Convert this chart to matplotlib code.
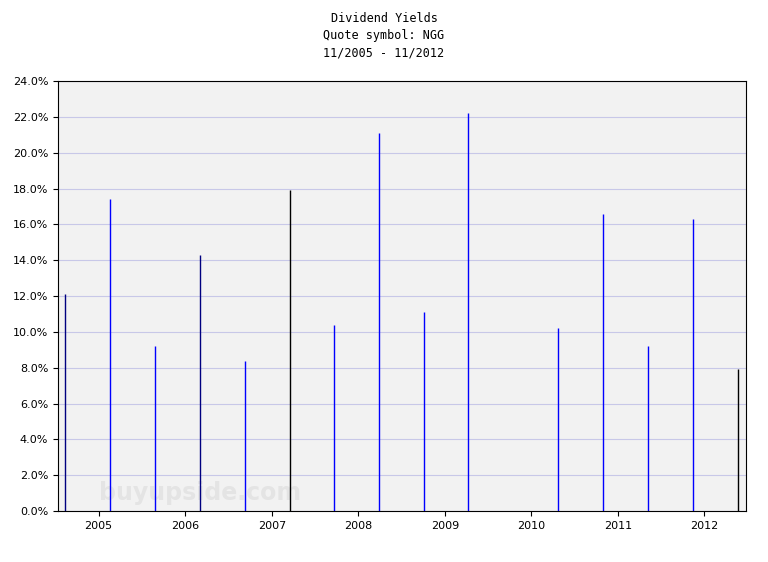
import matplotlib
matplotlib.use("Agg")
import matplotlib.pyplot as plt

dates = [2004.61, 2005.13, 2005.65, 2006.17, 2006.69, 2007.21, 2007.72, 2008.24,
         2008.76, 2009.27, 2010.31, 2010.83, 2011.35, 2011.87, 2012.39]
yields = [12.1, 17.4, 9.2, 14.3, 8.4, 17.9, 10.4, 21.1, 11.1, 22.2, 10.2, 16.6, 9.2, 16.3, 7.9]
colors = ["#000080", "#0000ff", "#0000ff", "#000080", "#0000ff", "#000000", "#0000ff", "#0000ff",
          "#0000ff", "#0000ff", "#0000ff", "#0000ff", "#0000ff", "#0000ff", "#000000"]
years = [2005, 2006, 2007, 2008, 2009, 2010, 2011, 2012]

fig = plt.figure(figsize=(7.68, 5.62), dpi=100)
ax = fig.add_axes([58/768, 1-511/562, (746-58)/768, (511-81)/562])
ax.set_facecolor("#f2f2f2")
ax.set_xlim(2004.53, 2012.48)
ax.set_ylim(0, 24)
ax.set_yticks(range(0, 25, 2))
ax.set_yticklabels([f"{v:.1f}%" for v in range(0, 25, 2)], fontsize=8)
ax.set_xticks([float(y) for y in years])
ax.set_xticklabels([str(y) for y in years], fontsize=8)
ax.grid(axis="y", color="#c8c8e8", linewidth=0.8)
ax.set_axisbelow(True)
ax.vlines(dates, 0, yields, colors=colors, linewidth=1)
ax.text(0.06, 0.025, "buyupside.com", transform=ax.transAxes, fontsize=17,
        color="#e4e4e4", fontweight="bold", zorder=0)
fig.text(0.5, 1-19/562, "Dividend Yields", ha="center", va="center", fontsize=8.5, family="DejaVu Sans Mono")
fig.text(0.5, 1-36/562, "Quote symbol: NGG", ha="center", va="center", fontsize=8.5, family="DejaVu Sans Mono")
fig.text(0.5, 1-53/562, "11/2005 - 11/2012", ha="center", va="center", fontsize=8.5, family="DejaVu Sans Mono")
fig.savefig("out.png", dpi=100)
